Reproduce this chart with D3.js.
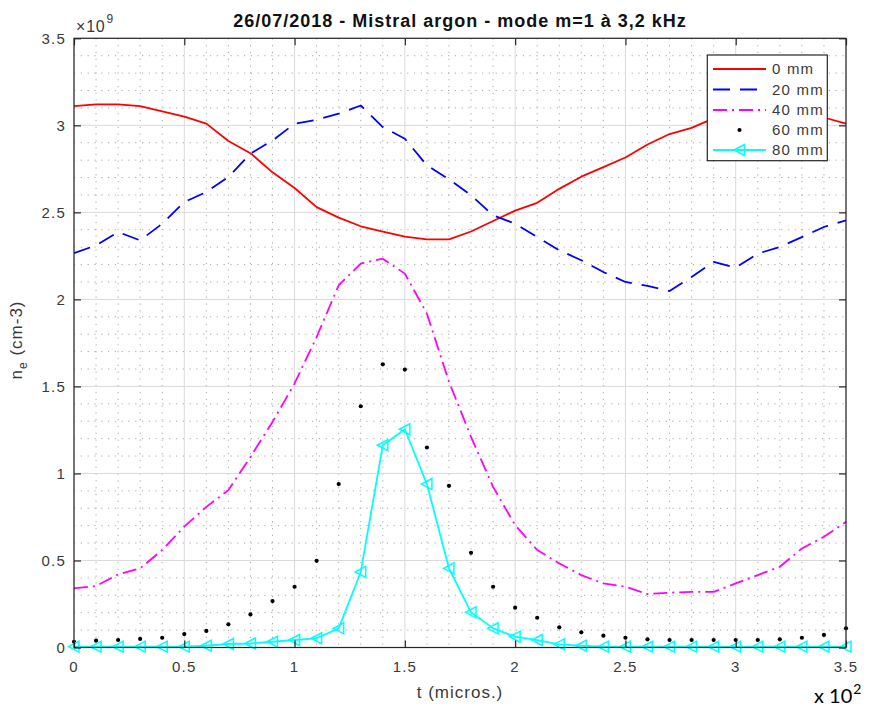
<!DOCTYPE html>
<html>
<head>
<meta charset="utf-8">
<script src="https://cdn.jsdelivr.net/npm/d3@7"></script>
<style>
  html, body { margin: 0; padding: 0; background: #fff; }
  svg { display: block; }
  text { font-family: "Liberation Sans", Arial, Helvetica, sans-serif; }
</style>
</head>
<body>
<svg id="chart" width="871" height="708"></svg>
<script>
// time axis (units of 10^2 micros.)
const t = [0, 0.1, 0.2, 0.3, 0.4, 0.5, 0.6, 0.7, 0.8, 0.9, 1.0, 1.1, 1.2, 1.3, 1.4, 1.5, 1.6, 1.7,
           1.8, 1.9, 2.0, 2.1, 2.2, 2.3, 2.4, 2.5, 2.6, 2.7, 2.8, 2.9, 3.0, 3.1, 3.2, 3.3, 3.4, 3.5];

// electron density (x 10^9 cm-3) at each radial position
const ne0mm = [3.11, 3.12, 3.12, 3.11, 3.08, 3.05, 3.01, 2.91, 2.84, 2.73, 2.64, 2.53, 2.47, 2.42, 2.39, 2.36, 2.345, 2.345,
               2.39, 2.45, 2.51, 2.555, 2.635, 2.705, 2.76, 2.815, 2.89, 2.95, 2.985, 3.04, 3.09, 3.12, 3.13, 3.09, 3.045, 3.01];
const ne20mm = [2.266, 2.31, 2.387, 2.339, 2.435, 2.559, 2.617, 2.703, 2.837, 2.913, 3.009, 3.032, 3.067, 3.114, 2.99, 2.923, 2.77, 2.69,
                2.598, 2.483, 2.435, 2.358, 2.282, 2.225, 2.157, 2.10, 2.077, 2.048, 2.129, 2.215, 2.183, 2.263, 2.301, 2.358, 2.416, 2.454];
const ne40mm = [0.34, 0.353, 0.42, 0.455, 0.56, 0.694, 0.808, 0.904, 1.095, 1.296, 1.517, 1.784, 2.081, 2.206, 2.234, 2.148, 1.918, 1.527,
                1.21, 0.923, 0.703, 0.56, 0.483, 0.416, 0.368, 0.349, 0.307, 0.315, 0.32, 0.32, 0.368, 0.416, 0.464, 0.569, 0.636, 0.722];
const ne60mm = [0.033, 0.039, 0.043, 0.049, 0.056, 0.077, 0.095, 0.133, 0.19, 0.267, 0.349, 0.498, 0.939, 1.386, 1.627, 1.597, 1.149, 0.929,
                0.544, 0.349, 0.229, 0.171, 0.116, 0.087, 0.068, 0.056, 0.047, 0.043, 0.043, 0.043, 0.043, 0.043, 0.047, 0.056, 0.072, 0.11];
const ne80mm = [0.005, 0.005, 0.005, 0.005, 0.005, 0.005, 0.01, 0.02, 0.023, 0.033, 0.043, 0.053, 0.11, 0.434, 1.162, 1.254, 0.939, 0.455,
                0.202, 0.11, 0.062, 0.043, 0.018, 0.01, 0.005, 0.005, 0.005, 0.005, 0.005, 0.005, 0.005, 0.005, 0.005, 0.005, 0.005, 0.005];

const seriesNames = ["0 mm", "20 mm", "40 mm", "60 mm", "80 mm"];
const xTicks = [0, 0.5, 1, 1.5, 2, 2.5, 3, 3.5];
const yTicks = [0, 0.5, 1, 1.5, 2, 2.5, 3, 3.5];
const xTickLabels = ["0", "0.5", "1", "1.5", "2", "2.5", "3", "3.5"];
const yTickLabels = ["0", "0.5", "1", "1.5", "2", "2.5", "3", "3.5"];
const minorStep = [0.1];

const titleText = "26/07/2018 - Mistral argon - mode m=1 à 3,2 kHz";
const xLabelText = "t (micros.)";

// line styles per series
const styles = [
  { color: "#ff0000", dash: null, line: true, marker: null },
  { color: "#0000ff", dash: "17,10", line: true, marker: null },
  { color: "#ff00ff", dash: "14,5,2,5", line: true, marker: null },
  { color: "#000000", dash: null, line: false, marker: "dot" },
  { color: "#00ffff", dash: null, line: true, marker: "tri" }
];

const svg = d3.select("#chart");
const L = 74, R = 846, T = 38.3, B = 647.5;
const x = d3.scaleLinear().domain([0, 3.5]).range([L, R]);
const y = d3.scaleLinear().domain([0, 3.5]).range([B, T]);

const axisColor = "#262626";
const labelColor = "#3a3a3a";

// minor grid (dotted)
const minorVals = d3.range(0, 3.5001, minorStep[0]).map(v => +v.toFixed(2)).filter(v => Math.abs(v * 2 - Math.round(v * 2)) > 1e-6);
const grid = svg.append("g");
grid.selectAll("line.mx").data(minorVals).join("line")
  .attr("x1", d => x(d)).attr("x2", d => x(d)).attr("y1", T).attr("y2", B)
  .attr("stroke", "#a8a8a8").attr("stroke-width", 1).attr("stroke-dasharray", "1.2,5.6");
grid.selectAll("line.my").data(minorVals).join("line")
  .attr("y1", d => y(d)).attr("y2", d => y(d)).attr("x1", L).attr("x2", R)
  .attr("stroke", "#a8a8a8").attr("stroke-width", 1).attr("stroke-dasharray", "1.2,5.6");

// major grid
grid.selectAll("line.gx").data(xTicks).join("line")
  .attr("x1", d => x(d)).attr("x2", d => x(d)).attr("y1", T).attr("y2", B)
  .attr("stroke", "#dadada").attr("stroke-width", 1);
grid.selectAll("line.gy").data(yTicks).join("line")
  .attr("y1", d => y(d)).attr("y2", d => y(d)).attr("x1", L).attr("x2", R)
  .attr("stroke", "#dadada").attr("stroke-width", 1);

// data
const plot = svg.append("g");
const allSeries = [ne0mm, ne20mm, ne40mm, ne60mm, ne80mm];
const lineGen = d3.line().x((d, i) => x(t[i])).y(d => y(d));
const triPath = "M-5.5,0L5,-5.5L5,5.5Z";

allSeries.forEach((vals, k) => {
  const s = styles[k];
  if (s.line) {
    plot.append("path").datum(vals)
      .attr("d", lineGen)
      .attr("fill", "none")
      .attr("stroke", s.color)
      .attr("stroke-width", 1.8)
      .attr("stroke-linejoin", "round")
      .attr("stroke-dasharray", s.dash);
  }
  if (s.marker === "dot") {
    plot.append("g").selectAll("circle").data(vals).join("circle")
      .attr("cx", (d, i) => x(t[i])).attr("cy", d => y(d)).attr("r", 2.1)
      .attr("fill", s.color);
  }
  if (s.marker === "tri") {
    plot.append("g").selectAll("path").data(vals).join("path")
      .attr("d", triPath)
      .attr("transform", (d, i) => `translate(${x(t[i])},${y(d)})`)
      .attr("fill", "none").attr("stroke", s.color).attr("stroke-width", 1.5);
  }
});

// axes with inward ticks on all four sides
const tickLen = 7;
const ax = svg.append("g");
ax.append("rect").attr("x", L).attr("y", T).attr("width", R - L).attr("height", B - T)
  .attr("fill", "none").attr("stroke", axisColor).attr("stroke-width", 1.2);

const xAxisB = d3.axisBottom(x).tickValues(xTicks).tickSize(-tickLen).tickPadding(0).tickFormat("");
const xAxisT = d3.axisTop(x).tickValues(xTicks).tickSize(-tickLen).tickFormat("");
const yAxisL = d3.axisLeft(y).tickValues(yTicks).tickSize(-tickLen).tickFormat("");
const yAxisR = d3.axisRight(y).tickValues(yTicks).tickSize(-tickLen).tickFormat("");
[[xAxisB, `translate(0,${B})`], [xAxisT, `translate(0,${T})`], [yAxisL, `translate(${L},0)`], [yAxisR, `translate(${R},0)`]]
  .forEach(([a, tr]) => {
    const g = ax.append("g").attr("transform", tr).call(a);
    g.select(".domain").remove();
    g.selectAll("line").attr("stroke", axisColor).attr("stroke-width", 1.2);
  });

// tick labels
ax.append("g").selectAll("text").data(xTicks).join("text")
  .attr("x", d => x(d)).attr("y", 672)
  .attr("text-anchor", "middle").attr("font-size", 15).attr("letter-spacing", 1.2)
  .attr("fill", labelColor)
  .text((d, i) => xTickLabels[i]);
ax.append("g").selectAll("text").data(yTicks).join("text")
  .attr("x", 66).attr("y", d => y(d) + 5.5)
  .attr("text-anchor", "end").attr("font-size", 15).attr("letter-spacing", 1.2)
  .attr("fill", labelColor)
  .text((d, i) => yTickLabels[i]);

// exponent of the y axis
const expo = svg.append("text").attr("x", 76).attr("y", 32.3).attr("fill", labelColor)
  .attr("font-size", 16).attr("letter-spacing", 0.8);
expo.append("tspan").text("×10");
expo.append("tspan").attr("font-size", 12).attr("dy", -9).attr("dx", 1).text("9");

// title
svg.append("text").attr("x", (L + R) / 2).attr("y", 26.5)
  .attr("text-anchor", "middle").attr("font-size", 18).attr("font-weight", "bold")
  .attr("letter-spacing", 1).attr("fill", "#111")
  .text(titleText);

// axis labels
svg.append("text").attr("x", (L + R) / 2).attr("y", 698)
  .attr("text-anchor", "middle").attr("font-size", 17).attr("letter-spacing", 1)
  .attr("fill", labelColor).text(xLabelText);

const yl = svg.append("text").attr("transform", `translate(22,340) rotate(-90)`)
  .attr("text-anchor", "middle").attr("font-size", 17).attr("letter-spacing", 1)
  .attr("fill", labelColor);
yl.append("tspan").text("n");
yl.append("tspan").attr("font-size", 12).attr("dy", 5).text("e");
yl.append("tspan").attr("dy", -5).text(" (cm-3)");

// scale factor of the time axis
const sc = svg.append("text").attr("x", 814).attr("y", 703).attr("fill", "#000")
  .style("font-family", "Lato, 'Open Sans', sans-serif").attr("font-size", 20);
sc.append("tspan").text("x 10");
sc.append("tspan").attr("font-size", 14).attr("dy", -9).attr("dx", 1).text("2");

// legend
const lg = svg.append("g");
const lgX = 707.3, lgY = 55, lgW = 120, lgH = 105.7;
lg.append("rect").attr("x", lgX).attr("y", lgY).attr("width", lgW).attr("height", lgH)
  .attr("fill", "#fff").attr("stroke", axisColor).attr("stroke-width", 1.2);
const rowY = [69, 89.5, 110, 130, 150];
seriesNames.forEach((name, k) => {
  const s = styles[k];
  const yy = rowY[k];
  if (s.line) {
    lg.append("line").attr("x1", 713).attr("x2", 766).attr("y1", yy).attr("y2", yy)
      .attr("stroke", s.color).attr("stroke-width", 1.8).attr("stroke-dasharray", s.dash);
  }
  if (s.marker === "dot") {
    lg.append("circle").attr("cx", 739.5).attr("cy", yy).attr("r", 2.1).attr("fill", s.color);
  }
  if (s.marker === "tri") {
    lg.append("path").attr("d", triPath).attr("transform", `translate(739.5,${yy})`)
      .attr("fill", "none").attr("stroke", s.color).attr("stroke-width", 1.5);
  }
  lg.append("text").attr("x", 772).attr("y", yy + 5.3).attr("font-size", 15).attr("letter-spacing", 1.2)
    .attr("fill", labelColor).text(name);
});
</script>
</body>
</html>
